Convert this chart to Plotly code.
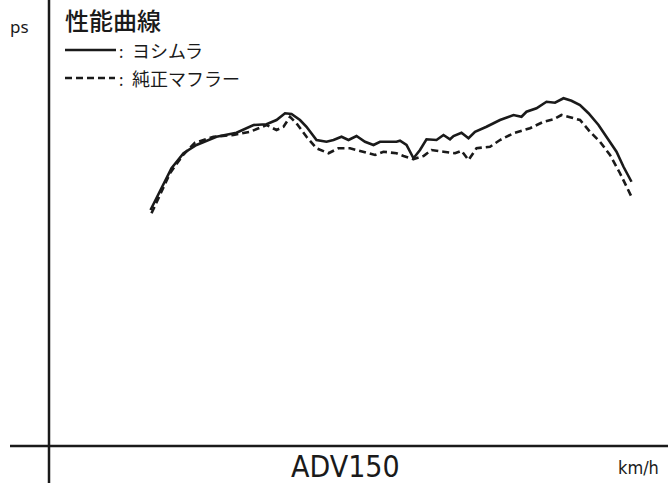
import plotly.graph_objects as go

# Speed (km/h) and power (ps)
speed_yoshimura = [20.3, 24.5, 26.9, 29.5, 33.5, 37.5, 40.9, 43.5, 45.5, 47.2, 48.5, 50.2, 51.5, 53.5,
                   55.5, 56.9, 58.5, 59.9, 61.5, 63.2, 64.9, 66.2, 67.5, 69.5, 70.2, 71.5, 72.9, 74.2,
                   75.5, 77.5, 78.9, 80.2, 80.9, 82.5, 83.9, 85.2, 87.5, 90.2, 92.9, 94.5, 95.5, 97.5,
                   99.5, 101.2, 102.9, 104.5, 106.2, 107.9, 109.9, 111.9, 113.5, 114.9, 116.5]
ps_yoshimura = [9.44, 11.11, 11.71, 12.04, 12.37, 12.53, 12.84, 12.87, 13.04, 13.31, 13.28, 13.04, 12.77, 12.24,
                12.17, 12.24, 12.37, 12.24, 12.40, 12.17, 12.04, 12.17, 12.17, 12.17, 12.21, 12.04, 11.51, 11.84,
                12.27, 12.24, 12.44, 12.27, 12.40, 12.53, 12.31, 12.57, 12.77, 13.04, 13.24, 13.17, 13.37, 13.51,
                13.77, 13.73, 13.91, 13.81, 13.64, 13.31, 12.84, 12.24, 11.77, 11.17, 10.57]

speed_stock = [20.5, 24.2, 26.8, 29.2, 32.9, 36.9, 40.2, 43.5, 45.5, 46.9, 48.2, 49.5, 51.5, 53.5,
               55.9, 57.9, 60.2, 62.9, 65.2, 66.9, 69.5, 70.9, 72.9, 74.9, 76.5, 78.9, 81.2, 82.5,
               83.9, 85.5, 88.2, 90.2, 92.9, 96.2, 98.9, 100.9, 102.5, 104.2, 106.2, 108.2, 110.2,
               112.2, 114.2, 116.5]
ps_stock = [9.31, 10.91, 11.64, 12.13, 12.37, 12.44, 12.57, 12.84, 12.64, 12.77, 13.17, 12.91, 12.37, 11.91,
            11.71, 11.91, 11.91, 11.77, 11.64, 11.77, 11.71, 11.60, 11.47, 11.60, 11.84, 11.77, 11.71, 11.81,
            11.44, 11.91, 11.97, 12.24, 12.51, 12.71, 12.97, 13.07, 13.24, 13.15, 13.04, 12.57, 12.17,
            11.64, 10.91, 9.97]

title_text = "性能曲線"
legend_names = ["ヨシムラ", "純正マフラー"]
model_name = "ADV150"
x_unit = "km/h"
y_unit = "ps"

W, H = 668, 483
JP = "Noto Sans CJK JP"
NARROW = "Liberation Sans Narrow, DejaVu Sans Condensed, sans-serif"
INK = "#1a1a1a"

fig = go.Figure()
fig.add_trace(go.Scatter(x=speed_yoshimura, y=ps_yoshimura, mode="lines",
                         line=dict(color=INK, width=2.6), name=legend_names[0]))
fig.add_trace(go.Scatter(x=speed_stock, y=ps_stock, mode="lines",
                         line=dict(color=INK, width=2.6, dash="7px,4px"), name=legend_names[1]))

def px(x):
    return x / W

def py(y):
    return 1 - y / H

shapes = [
    dict(type="line", xref="x", yref="paper", x0=0, x1=0, y0=0, y1=1,
         line=dict(color=INK, width=2.5)),
    dict(type="line", xref="paper", yref="y", x0=px(10), x1=1, y0=0, y1=0,
         line=dict(color=INK, width=2.5)),
    dict(type="line", xref="paper", yref="paper", x0=px(65), x1=px(116), y0=py(50), y1=py(50),
         line=dict(color=INK, width=2.5)),
    dict(type="line", xref="paper", yref="paper", x0=px(65), x1=px(115), y0=py(78), y1=py(78),
         line=dict(color=INK, width=2.5, dash="7px,4px")),
]

def note(text, x, y, size, anchor="left", family=JP, weight=400):
    return dict(text=text, x=px(x), y=py(y), xref="paper", yref="paper", showarrow=False,
                xanchor=anchor, yanchor="middle",
                font=dict(family=family, size=size, color=INK, weight=weight))

annotations = [
    note(y_unit, 19, 27, 17, anchor="center", family="Noto Sans"),
    note(title_text, 63, 19, 24, weight=500),
    note(":", 121, 51, 16, anchor="center"),
    note(legend_names[0], 130, 50, 18),
    note(":", 121, 79, 16, anchor="center"),
    note(legend_names[1], 130, 78, 18),
    note(model_name, 345, 466, 30, anchor="center", family=NARROW),
    note(x_unit, 638, 467, 18, anchor="center", family=NARROW),
]

fig.update_layout(
    width=W, height=H,
    margin=dict(l=0, r=0, t=0, b=0),
    paper_bgcolor="white", plot_bgcolor="white",
    showlegend=False,
    xaxis=dict(range=[-9.8, 123.8], visible=False, fixedrange=True),
    yaxis=dict(range=[-1.48, 17.84], visible=False, fixedrange=True),
    shapes=shapes,
    annotations=annotations,
)

fig.write_html("out.html", config={"displayModeBar": False},
               post_script="document.body.style.margin='0';document.body.style.overflow='hidden';")
